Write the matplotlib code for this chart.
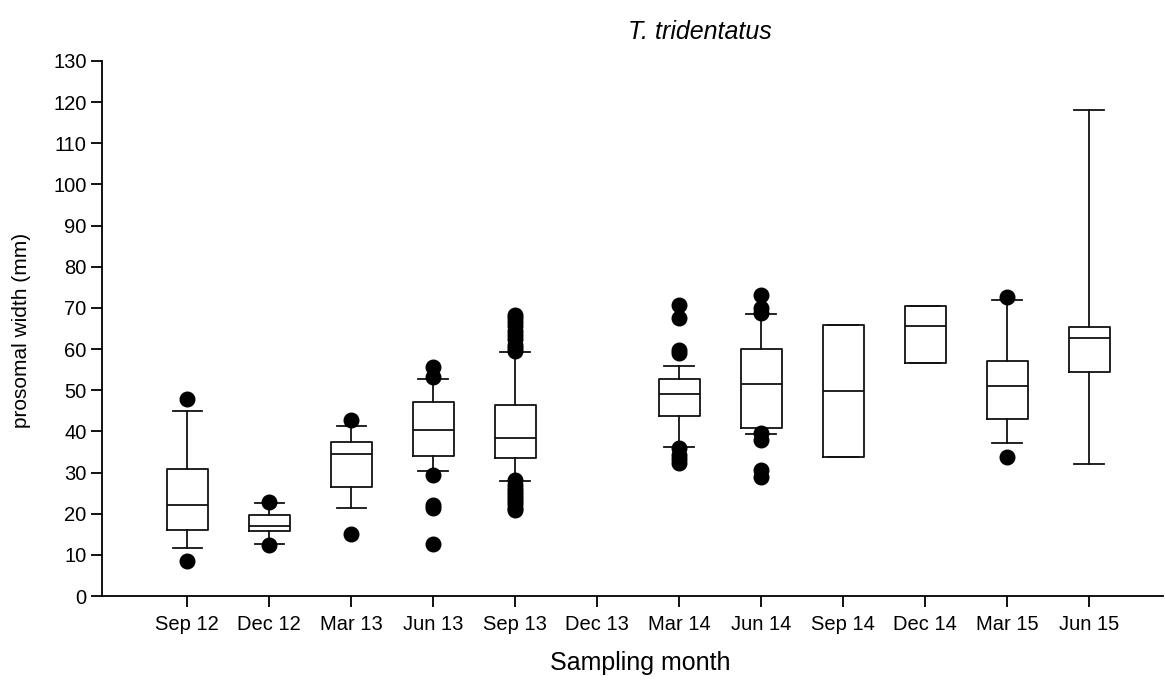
import matplotlib
matplotlib.use("Agg")
import matplotlib.pyplot as plt

plt.rcParams["font.family"] = ["Liberation Sans", "DejaVu Sans"]

# Sampling months (Dec 13 has no data)
months = ["Sep 12", "Dec 12", "Mar 13", "Jun 13", "Sep 13", "Dec 13",
          "Mar 14", "Jun 14", "Sep 14", "Dec 14", "Mar 15", "Jun 15"]

# Box statistics (mm); None = no sample
q1 = [16.0, 15.7, 26.5, 34.0, 33.5, None, 43.8, 40.9, 33.8, 56.5, 42.9, 54.5]
med = [22.0, 17.0, 34.4, 40.4, 38.5, None, 49.2, 51.4, 49.9, 65.5, 51.1, 62.6]
q3 = [30.9, 19.8, 37.3, 47.2, 46.3, None, 52.7, 60.0, 65.8, 70.4, 57.2, 65.3]
whislo = [11.7, 12.6, 21.3, 30.4, 27.9, None, 36.2, 39.4, 33.8, 56.5, 37.2, 32.1]
whishi = [45.0, 22.5, 41.4, 52.7, 59.3, None, 56.0, 68.5, 65.8, 70.4, 71.9, 118.1]

# Outliers
fliers = [
    [47.9, 8.6],
    [22.8, 12.3],
    [42.8, 15.1],
    [55.7, 53.3, 29.4, 22.0, 21.5, 12.6],
    [68.3, 67.5, 66.5, 65.5, 64.5, 63.5, 62.5, 61.0, 60.2, 59.5,
     28.2, 27.0, 26.0, 25.3, 24.5, 23.8, 23.0, 22.3, 21.5, 20.8],
    [],
    [70.7, 67.5, 59.8, 59.0, 35.9, 34.3, 33.2, 32.2],
    [73.1, 69.9, 68.7, 39.7, 37.9, 30.6, 29.0],
    [],
    [],
    [72.6, 33.8],
    [],
]

stats = []
positions = []
for i in range(len(months)):
    if med[i] is None:
        continue
    stats.append(dict(med=med[i], q1=q1[i], q3=q3[i], whislo=whislo[i],
                      whishi=whishi[i], fliers=fliers[i]))
    positions.append(i)

fig = plt.figure(figsize=(11.65, 6.84), dpi=100)
ax = fig.add_axes([102 / 1165, 88 / 684, 1061 / 1165, 535 / 684])

line = dict(color="#111111", linewidth=1.3)
ax.bxp(stats, positions=positions, widths=0.5, capwidths=0.36,
       boxprops=line, medianprops=line, whiskerprops=line, capprops=line,
       flierprops=dict(marker="o", markerfacecolor="black",
                       markeredgecolor="black", markersize=10.5,
                       linestyle="none"))

ax.set_xlim(-1.04, 11.9)
ax.set_ylim(0, 130)
ax.set_yticks(range(0, 131, 10))
ax.set_xticks(range(len(months)))
ax.set_xticklabels(months)
ax.spines["top"].set_visible(False)
ax.spines["right"].set_visible(False)
ax.spines["left"].set_linewidth(1.3)
ax.spines["bottom"].set_linewidth(1.3)
ax.tick_params(axis="both", direction="out", length=8, width=1.3,
               labelsize=14.5)
ax.tick_params(axis="y", pad=3)
ax.tick_params(axis="x", pad=6)

fig.text(22 / 1165, 1 - 330 / 684, "prosomal width (mm)", fontsize=15,
         rotation=90, ha="center", va="center")
fig.text(640 / 1165, 1 - 663 / 684, "Sampling month", fontsize=18,
         ha="center", va="center")
fig.text(700 / 1165, 1 - 32 / 684, "T. tridentatus", fontsize=18,
         style="italic", ha="center", va="center")

fig.savefig("out.png", dpi=100)
